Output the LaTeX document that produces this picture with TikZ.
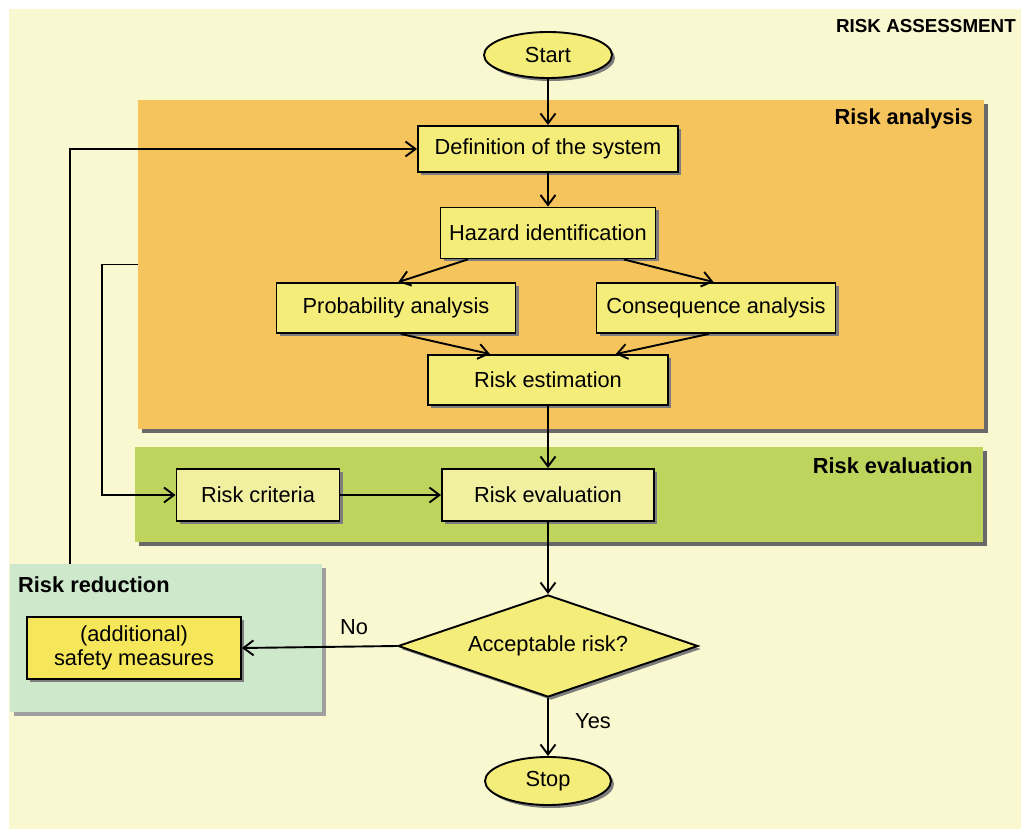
\documentclass[tikz,border=0pt]{standalone}
\usepackage{fontspec}
\setmainfont{Liberation Sans}
\usetikzlibrary{shapes.geometric,arrows.meta,calc,shadows}

\definecolor{paper}{RGB}{250,248,208}
\definecolor{analysisbg}{RGB}{246,196,92}
\definecolor{evalbg}{RGB}{190,212,92}
\definecolor{reductionbg}{RGB}{206,232,204}
\definecolor{boxfill}{RGB}{245,237,122}
\definecolor{paleboxfill}{RGB}{240,240,160}
\definecolor{safetyfill}{RGB}{245,230,90}
\definecolor{panelshadow}{RGB}{105,105,105}
\definecolor{lightshadow}{RGB}{160,160,160}
\definecolor{boxshadow}{RGB}{125,125,125}

\begin{document}
\begin{tikzpicture}[x=1pt,y=-1pt,
  txt/.style={font=\fontsize{21.8}{24.5}\selectfont},
  head/.style={font=\fontsize{21.8}{24.5}\selectfont\bfseries},
  panel/.style={rectangle, inner sep=0pt, draw=none,
    drop shadow={shadow xshift=4pt, shadow yshift=-4pt, fill=panelshadow, opacity=1}},
  stepbox/.style={rectangle, draw=black, line width=1.9pt, fill=boxfill,
    inner sep=0pt, txt,
    drop shadow={shadow xshift=3pt, shadow yshift=-3pt, fill=boxshadow, opacity=1}},
  terminal/.style={ellipse, draw=black, line width=1.9pt, fill=boxfill,
    inner sep=0pt, txt,
    drop shadow={shadow xshift=3pt, shadow yshift=-3pt, fill=boxshadow, opacity=1}},
  decision/.style={diamond, aspect=3, draw=black, line width=1.9pt, fill=boxfill,
    inner sep=0pt, txt,
    drop shadow={shadow xshift=3pt, shadow yshift=-3pt, fill=boxshadow, opacity=1}},
  flow/.style={line width=1.9pt, -{Straight Barb[length=10pt,width=15pt,line width=1.9pt]}},
  link/.style={line width=1.9pt}
]
\useasboundingbox (0,0) rectangle (1021,829);
\fill[white] (0,0) rectangle (1021,829);
\fill[paper] (9,9) rectangle (1021,829);

% background panels
\node[panel, fill=analysisbg, minimum width=846pt, minimum height=329pt] (ana) at (561,264.5) {};
\node[panel, fill=evalbg, minimum width=848pt, minimum height=95pt] (evp) at (559,494.5) {};
\node[panel, fill=reductionbg, minimum width=312pt, minimum height=148pt,
  drop shadow={shadow xshift=4pt, shadow yshift=-4pt, fill=lightshadow, opacity=1}] (red) at (166,638) {};

% panel titles
\node[font=\fontsize{18.8}{21}\selectfont\bfseries, anchor=east, inner sep=0pt] (title) at (1016,26) {RISK ASSESSMENT};
\node[head, anchor=east, inner sep=0pt] (anatitle) at (973,119) {Risk analysis};
\node[head, anchor=east, inner sep=0pt] (evptitle) at (973,466) {Risk evaluation};
\node[head, anchor=west, inner sep=0pt] (redtitle) at (18,585) {Risk reduction};

% flow chart nodes
\node[terminal, minimum width=128pt, minimum height=46pt] (start) at (548,55) {Start};
\node[stepbox, minimum width=260pt, minimum height=46pt] (def) at (548,149) {Definition of the system};
\node[stepbox, minimum width=215pt, minimum height=51pt] (haz) at (548,233) {Hazard identification};
\node[stepbox, minimum width=239pt, minimum height=50pt] (prob) at (396,308) {Probability analysis};
\node[stepbox, minimum width=239pt, minimum height=50pt] (cons) at (716,308) {Consequence analysis};
\node[stepbox, minimum width=240pt, minimum height=50pt] (est) at (548,380) {Risk estimation};
\node[stepbox, fill=paleboxfill, minimum width=163pt, minimum height=52pt] (crit) at (258,495) {Risk criteria};
\node[stepbox, fill=paleboxfill, minimum width=212pt, minimum height=52pt] (eval) at (548,495) {Risk evaluation};
\node[decision, minimum width=300pt, minimum height=102pt] (dec) at (548,646) {Acceptable risk?};
\node[terminal, minimum width=126pt, minimum height=48pt] (stop) at (548,781) {Stop};
\node[stepbox, fill=safetyfill, align=center, minimum width=214pt, minimum height=62pt] (safe) at (134,648) {(additional)\\safety measures};

% branch labels
\node[txt, inner sep=0pt] (nolabel) at (354,627) {No};
\node[txt, inner sep=0pt] (yeslabel) at (593,721) {Yes};

% connectors
\draw[flow] (start) -- (def);
\draw[flow] (def) -- (haz);
\draw[flow] ($(haz.south west)!0.13!(haz.south east)$) -- ($(prob.north west)!0.51!(prob.north east)$);
\draw[flow] ($(haz.south west)!0.85!(haz.south east)$) -- ($(cons.north west)!0.49!(cons.north east)$);
\draw[flow] ($(prob.south west)!0.52!(prob.south east)$) -- ($(est.north west)!0.26!(est.north east)$);
\draw[flow] ($(cons.south west)!0.47!(cons.south east)$) -- ($(est.north west)!0.78!(est.north east)$);
\draw[flow] (est) -- (eval);
\draw[flow] (crit) -- (eval);
\draw[flow] (eval) -- (dec);
\draw[flow] (dec.west) -- (safe.east);
\draw[flow] (dec.south) -- (stop);

% feedback loops
\coordinate (fbup) at ($(red.north west)+(60,0)$);
\draw[flow] (fbup) |- (def.west);
\draw[flow] (ana.west) -- ++(-36,0) |- (crit.west);
\end{tikzpicture}
\end{document}
